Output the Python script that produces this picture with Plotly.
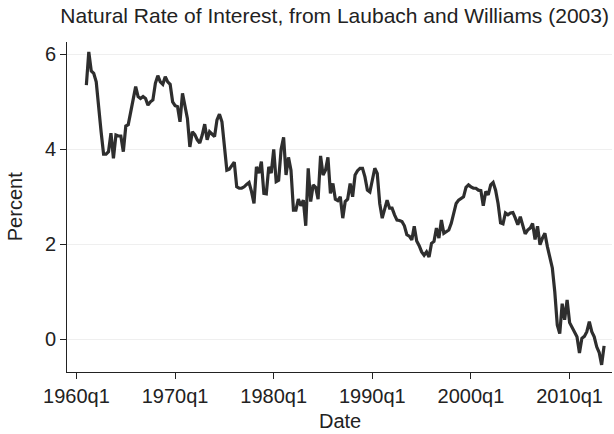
import pandas as pd
import plotly.graph_objects as go

# quarterly natural rate estimates, 1961q1 onward
rate = [
    5.35, 6.05, 5.65, 5.60, 5.42, 4.97, 4.37, 3.90, 3.90, 3.95,
    4.34, 3.81, 4.30, 4.28, 4.28, 3.95, 4.49, 4.52, 4.76, 5.07,
    5.32, 5.11, 5.07, 5.11, 5.07, 4.93, 5.00, 5.04, 5.39, 5.55,
    5.42, 5.37, 5.53, 5.42, 5.37, 5.00, 4.92, 4.90, 4.58, 5.18,
    4.93, 4.65, 4.05, 4.37, 4.31, 4.20, 4.13, 4.30, 4.53, 4.20,
    4.37, 4.31, 4.27, 4.62, 4.74, 4.58, 4.09, 3.56, 3.58, 3.65,
    3.73, 3.21, 3.18, 3.18, 3.21, 3.26, 3.30, 3.11, 2.86, 3.63,
    3.50, 3.74, 3.07, 3.06, 3.63, 3.50, 4.00, 3.32, 3.35, 4.00,
    4.25, 3.46, 3.83, 3.56, 2.72, 2.72, 2.95, 2.81, 2.93, 2.39,
    3.60, 2.90, 3.25, 3.20, 2.95, 3.86, 3.46, 3.56, 3.83, 3.07,
    3.28, 2.95, 2.92, 3.00, 2.55, 2.90, 2.95, 3.28, 3.00, 3.46,
    3.55, 3.60, 3.60, 3.42, 3.14, 3.10, 3.40, 3.60, 3.49, 2.86,
    2.55, 2.76, 2.93, 2.76, 2.76, 2.62, 2.51, 2.50, 2.48, 2.39,
    2.20, 2.17, 2.09, 2.38, 2.07, 1.97, 1.84, 1.77, 1.84, 1.73,
    2.02, 2.06, 2.34, 2.13, 2.51, 2.23, 2.27, 2.30, 2.44, 2.69,
    2.86, 2.93, 2.97, 3.00, 3.20, 3.25, 3.21, 3.18, 3.18, 3.14,
    3.13, 2.81, 3.11, 3.04, 3.25, 3.30, 3.14, 2.86, 2.45, 2.43,
    2.66, 2.62, 2.66, 2.67, 2.55, 2.41, 2.58, 2.41, 2.22, 2.30,
    2.34, 2.44, 2.10, 2.38, 1.99, 2.13, 2.23, 1.95, 1.75, 1.50,
    1.00, 0.30, 0.12, 0.75, 0.41, 0.83, 0.35, 0.25, 0.15, 0.05,
    -0.29, 0.02, 0.06, 0.16, 0.37, 0.16, 0.05, -0.16, -0.28, -0.54,
    -0.14,
]
first_quarter = "1961Q1"

tick_dates = ["1960-01-01", "1970-01-01", "1980-01-01", "1990-01-01", "2000-01-01", "2010-01-01"]
tick_labels = ["1960q1", "1970q1", "1980q1", "1990q1", "2000q1", "2010q1"]
y_ticks = [0, 2, 4, 6]

dates = pd.period_range(first_quarter, periods=len(rate), freq="Q").to_timestamp()

FONT = "Liberation Sans, Arial, sans-serif"
TXT = "#222222"

fig = go.Figure()
fig.add_trace(go.Scatter(
    x=dates, y=rate, mode="lines",
    line=dict(color="#2e2e2e", width=3.2),
    showlegend=False,
))

fig.update_layout(
    width=614, height=434,
    margin=dict(l=67, r=2, t=42, b=62),
    paper_bgcolor="white", plot_bgcolor="white",
    font=dict(family=FONT, size=20, color=TXT),
    title=dict(
        text="Natural Rate of Interest, from Laubach and Williams (2003)",
        x=0.545, xref="container", xanchor="center",
        y=0.965, yref="container", yanchor="middle",
        font=dict(family=FONT, size=21, color=TXT),
    ),
)

fig.update_xaxes(
    range=["1959-01-15", "2014-04-20"],
    tickvals=pd.to_datetime(tick_dates), ticktext=tick_labels,
    ticks="outside", ticklen=6, tickcolor="#222222",
    showline=True, linecolor="#222222", linewidth=1,
    showgrid=False, zeroline=False,
    tickfont=dict(size=20),
)
fig.update_yaxes(
    range=[-0.69, 6.26],
    tickvals=y_ticks,
    ticks="outside", ticklen=6, tickcolor="#222222",
    showline=True, linecolor="#222222", linewidth=1,
    showgrid=True, gridcolor="#efefef", gridwidth=1,
    zeroline=False,
    tickfont=dict(size=20),
)

fig.add_annotation(
    text="Percent", textangle=-90, showarrow=False,
    xref="paper", yref="paper", x=-0.095, y=0.5,
    xanchor="center", yanchor="middle",
    font=dict(family=FONT, size=20, color=TXT),
)
fig.add_annotation(
    text="Date", showarrow=False,
    xref="paper", yref="paper", x=0.5, y=-0.147,
    xanchor="center", yanchor="middle",
    font=dict(family=FONT, size=20, color=TXT),
)

# page body has a default 8px margin; drop it so the chart sits at the corner
fig.write_html(
    "out.html",
    config={"displayModeBar": False},
    post_script="document.body.style.margin='0';",
)
